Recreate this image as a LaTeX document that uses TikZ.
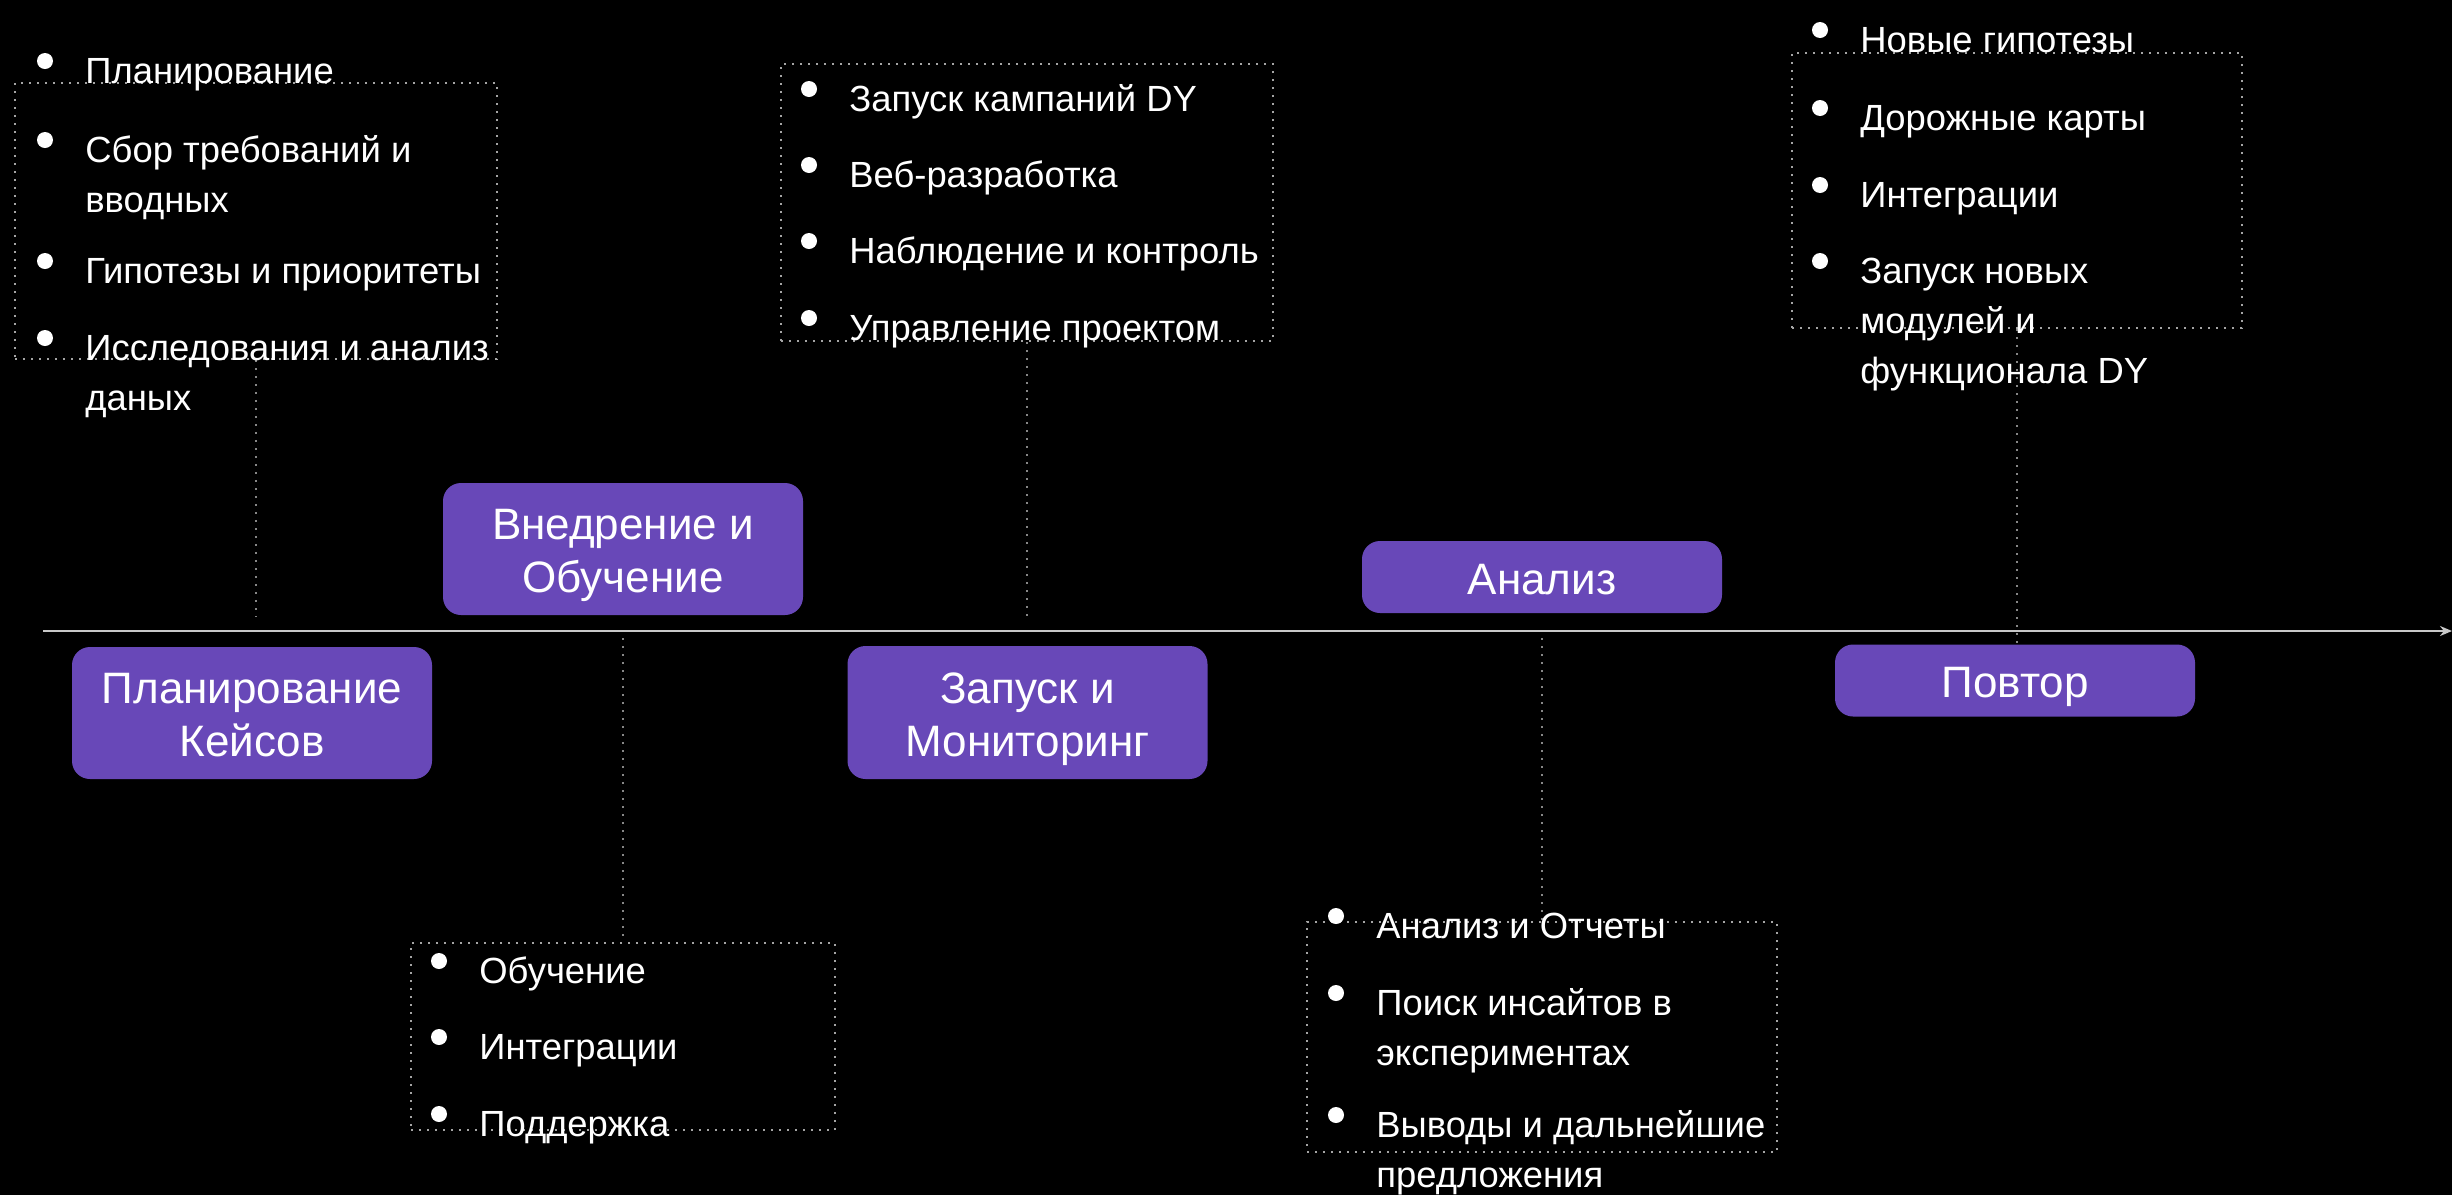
\documentclass[tikz,border=0pt]{standalone}
\usepackage{fontspec}
\setmainfont{Liberation Sans}
\usetikzlibrary{arrows.meta}
\definecolor{stagefill}{RGB}{104,72,184}
\definecolor{dotgray}{RGB}{165,165,165}
\definecolor{linkgray}{RGB}{135,135,135}
\definecolor{axisgray}{RGB}{200,200,200}
\newcommand\ml[1]{\begin{tabular}[t]{@{}l@{}}#1\end{tabular}}
\newcommand\mc[1]{\begin{tabular}[t]{@{}c@{}}#1\end{tabular}}
\newcommand\listentry[4]{%
  \node[itemtext] (#1) at (#2,#3) {#4};
  \fill[white] ([shift={(-20pt,11pt)}]#1.base west) circle (4pt);}
\begin{document}
\begin{tikzpicture}[x=0.5pt, y=-0.5pt,
  stagebox/.style={fill=stagefill, rounded corners=9pt, minimum width=180pt,
    text=white, font=\fontsize{22}{26.5}\selectfont, inner sep=0pt, text height=20pt},
  oneline/.style={stagebox, text depth=2.7pt},
  twoline/.style={stagebox, text depth=29.2pt},
  listbox/.style={draw=dotgray, line width=1pt, dash pattern=on 1pt off 3pt, inner sep=0pt},
  linker/.style={draw=linkgray, line width=1pt, dash pattern=on 1pt off 3pt},
  itemtext/.style={text=white, font=\fontsize{18.2}{25}\selectfont, inner sep=0pt, anchor=base west},
  timeline/.style={draw=axisgray, line width=1pt, -{Stealth[length=6pt,width=5pt]}}]
\fill[black] (0,0) rectangle (2452,1195);
\useasboundingbox (0,0) rectangle (2452,1195);

% timeline
\coordinate (tlA) at (43,631);
\coordinate (tlB) at (2452,631);
\draw[timeline] (tlA) -- (tlB);

% dotted list frames
\node[listbox, minimum width=241pt, minimum height=138pt] (la) at (256,221) {};
\node[listbox, minimum width=246pt, minimum height=138.5pt] (lb) at (1027,202.5) {};
\node[listbox, minimum width=212pt, minimum height=93.5pt] (lc) at (623,1036.5) {};
\node[listbox, minimum width=235pt, minimum height=115pt] (ld) at (1542,1037) {};
\node[listbox, minimum width=225pt, minimum height=137.5pt] (le) at (2017,190.5) {};

% stages
\node[twoline, minimum height=66pt] (s1) at (252,713) {\mc{Планирование\\Кейсов}};
\node[twoline, minimum height=66pt] (s2) at (623,549) {\mc{Внедрение и\\Обучение}};
\node[twoline, minimum height=66.5pt] (s3) at (1027.5,712.5) {\mc{Запуск и\\Мониторинг}};
\node[oneline, minimum height=36pt] (s4) at (1542,577) {Анализ};
\node[oneline, minimum height=36pt] (s5) at (2015,680.5) {Повтор};

% connectors
\coordinate (endA) at (256,617);
\coordinate (endB) at (1027,622);
\coordinate (startC) at (623,638);
\coordinate (startD) at (1542,638);
\draw[linker] (la.south) -- (endA);
\draw[linker] (lb.south) -- (endB);
\draw[linker] (startC) -- (lc.north);
\draw[linker] (startD) -- (ld.north);
\draw[linker] (le.south) -- (le.south |- s5.north);

% list A
\listentry{a1}{85}{83}{Планирование}
\listentry{a2}{85}{162}{\ml{Сбор требований и\\вводных}}
\listentry{a3}{85}{283}{Гипотезы и приоритеты}
\listentry{a4}{85}{360}{\ml{Исследования и анализ\\даных}}

% list B
\listentry{b1}{849}{111}{Запуск кампаний DY}
\listentry{b2}{849}{187}{Веб-разработка}
\listentry{b3}{849}{263}{Наблюдение и контроль}
\listentry{b4}{849}{340}{Управление проектом}

% list C
\listentry{c1}{479}{983}{Обучение}
\listentry{c2}{479}{1059}{Интеграции}
\listentry{c3}{479}{1136}{Поддержка}

% list D
\listentry{d1}{1376}{938}{Анализ и Отчеты}
\listentry{d2}{1376}{1015}{\ml{Поиск инсайтов в\\экспериментах}}
\listentry{d3}{1376}{1137}{\ml{Выводы и дальнейшие\\предложения}}

% list E
\listentry{e1}{1860}{52}{Новые гипотезы}
\listentry{e2}{1860}{130}{Дорожные карты}
\listentry{e3}{1860}{207}{Интеграции}
\listentry{e4}{1860}{283}{\ml{Запуск новых\\модулей и\\функционала DY}}
\end{tikzpicture}
\end{document}
